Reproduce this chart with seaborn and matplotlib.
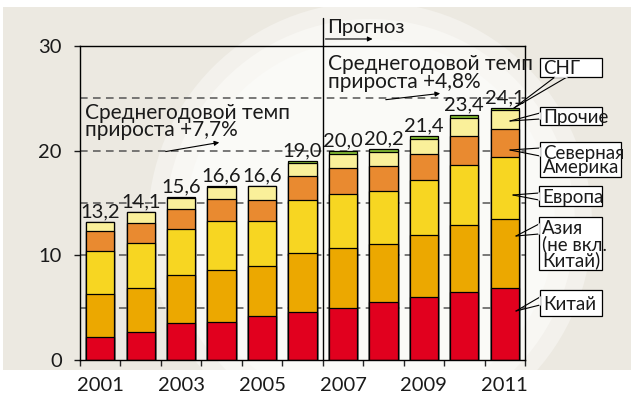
import numpy as np
import pandas as pd
import matplotlib
matplotlib.use("Agg")
import matplotlib.pyplot as plt
from matplotlib.patches import Rectangle, Circle
import seaborn as sns

# data (млн т)
years = [str(y) for y in range(2001, 2012)]
china = [2.2, 2.7, 3.5, 3.6, 4.2, 4.6, 5.0, 5.5, 6.0, 6.5, 6.9]
asia = [4.1, 4.2, 4.6, 5.0, 4.8, 5.6, 5.7, 5.6, 5.9, 6.4, 6.6]
europe = [4.1, 4.3, 4.4, 4.7, 4.3, 5.1, 5.2, 5.0, 5.3, 5.7, 5.9]
n_america = [1.9, 1.9, 1.9, 2.1, 2.0, 2.3, 2.4, 2.4, 2.5, 2.8, 2.7]
others = [0.85, 1.0, 1.1, 1.15, 1.3, 1.25, 1.4, 1.4, 1.45, 1.7, 1.8]
cis = [0.05, 0.0, 0.1, 0.05, 0.0, 0.15, 0.3, 0.3, 0.25, 0.3, 0.2]

series = ["Китай", "Азия\n(не вкл.\nКитай)", "Европа", "Северная\nАмерика", "Прочие", "СНГ"]
colors = ["#E1001E", "#ECA800", "#F7D622", "#E98A30", "#FAF09A", "#86BF34"]
year_ticks = ["2001", "2003", "2005", "2007", "2009", "2011"]
growth_hist = "Среднегодовой темп\nприроста +7,7%"
growth_fcst = "Среднегодовой темп\nприроста +4,8%"

df = pd.DataFrame({"year": years})
for name, vals in zip(series, [china, asia, europe, n_america, others, cis]):
    df[name] = vals
cum = df[series].cumsum(axis=1)
totals = cum[series[-1]]

sns.set_theme(style="white")
plt.rcParams["font.family"] = ["Lato", "DejaVu Sans"]
TXT = "#1a1a1a"

W, H = 631, 401
fig = plt.figure(figsize=(W / 100, H / 100), dpi=100)
fig.patch.set_facecolor("white")

# background panel with the light circle
bg = fig.add_axes([0, 0, 1, 1], zorder=0)
bg.set_xlim(0, W)
bg.set_ylim(H, 0)
bg.axis("off")
panel = Rectangle((3, 7), W - 3, 363, facecolor="#ECE9E1", edgecolor="none")
bg.add_patch(panel)
for r, c in [(222, "#F3F1EC"), (205, "#F8F7F3"), (185, "#FAFAF7")]:
    circ = Circle((370, 224), r, facecolor=c, edgecolor="none")
    bg.add_patch(circ)
    circ.set_clip_path(panel)

ax = fig.add_axes([80 / W, 41 / H, 445 / W, 314 / H], zorder=1)
ax.set_facecolor("none")

for y in [5, 10, 15, 20, 25]:
    ax.axhline(y, color="#555555", lw=1.1, ls=(0, (5, 3.5)), zorder=0)

# stacked bars: draw cumulative layers from top down
for name, col in reversed(list(zip(series, colors))):
    sns.barplot(x=df["year"], y=cum[name], color=col, saturation=1, width=0.7,
                edgecolor="black", linewidth=0.9, ax=ax, zorder=2)

for i, t in enumerate(totals):
    ax.text(i, t + 0.15, f"{t:.1f}".replace(".", ","), ha="center", va="bottom",
            fontsize=14.5, color=TXT, zorder=3)

ax.set_xlim(-0.5, 10.5)
ax.set_ylim(0, 30)
ax.set_xlabel("")
ax.set_ylabel("")
ax.set_yticks([0, 10, 20, 30])
ax.set_xticks([years.index(y) for y in year_ticks])
ax.set_xticklabels(year_ticks)
ax.set_xticks(np.arange(-0.5, 11, 1), minor=True)
ax.tick_params(axis="y", which="major", direction="out", length=4, width=1, pad=9,
               labelsize=14.5, colors=TXT, left=True)
ax.tick_params(axis="x", which="major", length=0, pad=12, labelsize=14.5, colors=TXT)
ax.tick_params(axis="x", which="minor", direction="out", length=4, width=1, bottom=True)
for s in ax.spines.values():
    s.set_color("black")
    s.set_linewidth(1)
    s.set_visible(True)

# forecast marker
ax.plot([5.5, 5.5], [0, 32.7], color="black", lw=1, clip_on=False, zorder=4)
ax.text(5.61, 31.25, "Прогноз", fontsize=14.5, ha="left", va="baseline", color=TXT)
ax.annotate("", xy=(6.8, 30.67), xytext=(5.5, 30.67), annotation_clip=False,
            arrowprops=dict(arrowstyle="-|>", color="black", lw=0.8, mutation_scale=7))

ax.text(-0.38, 24.6, growth_hist, fontsize=15, ha="left", va="top", linespacing=0.85,
        color=TXT, zorder=3)
ax.annotate("", xy=(3.01, 20.83), xytext=(1.55, 19.87),
            arrowprops=dict(arrowstyle="-|>", color="black", lw=0.8, mutation_scale=7), zorder=3)
ax.text(5.63, 29.2, growth_fcst, fontsize=15, ha="left", va="top", linespacing=0.85,
        color=TXT, zorder=3)
ax.annotate("", xy=(8.47, 25.5), xytext=(6.99, 24.84),
            arrowprops=dict(arrowstyle="-|>", color="black", lw=0.8, mutation_scale=7), zorder=3)

# callout labels on the right
ov = fig.add_axes([0, 0, 1, 1], zorder=3)
ov.set_xlim(0, W)
ov.set_ylim(H, 0)
ov.axis("off")
boxes = {
    "СНГ": ((540, 58, 602, 77), [(555, 77), (567, 77)], (514, 108)),
    "Прочие": ((540, 107, 602, 125), [(540, 113), (540, 119)], (510, 121)),
    "Северная\nАмерика": ((540, 142, 621, 177), [(540, 148), (540, 156)], (510, 150)),
    "Европа": ((539, 186, 602, 206), [(539, 193), (539, 200)], (513, 195)),
    "Азия\n(не вкл.\nКитай)": ((539, 217, 602, 270), [(539, 224), (539, 234)], (516, 236)),
    "Китай": ((540, 290, 602, 316), [(540, 297), (540, 305)], (516, 311)),
}
for name in series:
    (x0, y0, x1, y1), base, tip = boxes[name]
    ov.add_patch(Rectangle((x0, y0), x1 - x0, y1 - y0, facecolor="white",
                           edgecolor="black", lw=0.9))
    for bx, by in base:
        ov.plot([bx, tip[0]], [by, tip[1]], color="black", lw=0.8)
    ov.plot([base[0][0], base[1][0]], [base[0][1], base[1][1]], color="white", lw=1.2)
    ov.text(x0 + 3, (y0 + y1) / 2 + 1, name, fontsize=13.5, ha="left", va="center",
            linespacing=0.85, color=TXT)

fig.savefig("out.png", dpi=100)
